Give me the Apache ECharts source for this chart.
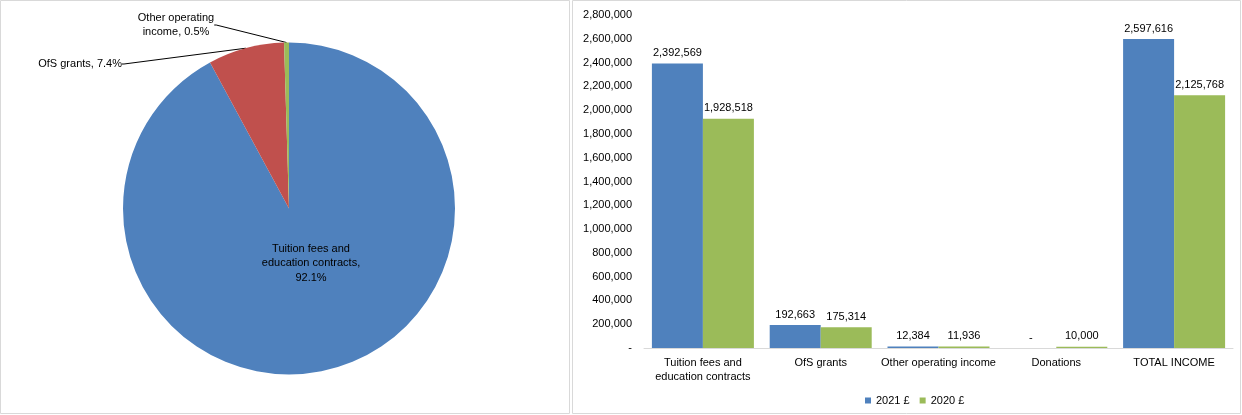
<!DOCTYPE html>
<html><head><meta charset="utf-8">
<script src="https://cdn.jsdelivr.net/npm/echarts@6/dist/echarts.min.js"></script>
<style>html,body{margin:0;padding:0;background:#fff}#c{width:1242px;height:415px}</style>
</head><body><div id="c"></div>
<script>
const categories = ['Tuition fees and\neducation contracts', 'OfS grants', 'Other operating income', 'Donations', 'TOTAL INCOME'];
const values2021 = [2392569, 192663, 12384, 0, 2597616];
const values2020 = [1928518, 175314, 11936, 10000, 2125768];
const seriesNames = ['2021 £', '2020 £'];
const pieNames = ['Tuition fees and education contracts', 'OfS grants', 'Other operating income'];
const pieLabelText = ['Tuition fees and\neducation contracts,', 'OfS grants,', 'Other operating\nincome,'];
const pieValues = [2392569, 192663, 12384];

const FONT = '"Liberation Sans", Arial, sans-serif';
const colors = ['#4F81BD', '#9BBB59'];
const pieColors = ['#4F81BD', '#C0504D', '#9BBB59'];
const fmt = v => v === 0 ? '-' : v.toLocaleString('en-US');

const pieLabelPos = [
  {x: 311, y: 263, align: 'center', verticalAlign: 'middle'},
  {x: 122, y: 64, align: 'right', verticalAlign: 'middle'},
  {x: 176, y: 25, align: 'center', verticalAlign: 'middle'}
];

const chart = echarts.init(document.getElementById('c'), null, {renderer: 'canvas'});
chart.setOption({
  animation: false,
  textStyle: {fontFamily: FONT},
  graphic: [
    {type: 'rect', shape: {x: 0.5, y: 0.5, width: 569, height: 413}, style: {fill: 'none', stroke: '#D9D9D9', lineWidth: 1}, silent: true},
    {type: 'rect', shape: {x: 572.5, y: 0.5, width: 668, height: 413}, style: {fill: 'none', stroke: '#D9D9D9', lineWidth: 1}, silent: true}
  ],
  legend: {
    data: seriesNames,
    left: 860, top: 390,
    icon: 'rect', itemWidth: 6, itemHeight: 6, itemGap: 10,
    textStyle: {fontSize: 11, color: '#000', fontFamily: FONT}
  },
  grid: {left: 644, right: 9, top: 15, bottom: 67, containLabel: false},
  xAxis: {
    type: 'category', data: categories,
    axisLine: {lineStyle: {color: '#D9D9D9', width: 1}},
    axisTick: {show: false},
    axisLabel: {interval: 0, fontSize: 11, color: '#000', margin: 8, lineHeight: 14, fontFamily: FONT}
  },
  yAxis: {
    type: 'value', min: 0, max: 2800000, interval: 200000,
    axisLine: {show: false}, axisTick: {show: false}, splitLine: {show: false},
    axisLabel: {fontSize: 11, color: '#000', margin: 12, formatter: fmt, fontFamily: FONT}
  },
  series: [
    {
      type: 'bar', name: seriesNames[0], data: values2021, barWidth: 51, barGap: '0%',
      itemStyle: {color: colors[0]},
      label: {show: true, position: 'top', distance: 5, fontSize: 11, color: '#000', fontFamily: FONT, formatter: p => fmt(p.value)}
    },
    {
      type: 'bar', name: seriesNames[1], data: values2020, barWidth: 51, barGap: '0%',
      itemStyle: {color: colors[1]},
      label: {show: true, position: 'top', distance: 5, fontSize: 11, color: '#000', fontFamily: FONT, formatter: p => fmt(p.value)}
    },
    {
      type: 'pie', center: [289, 208.5], radius: 166, startAngle: 90, clockwise: true,
      avoidLabelOverlap: false,
      data: pieNames.map((n, i) => ({
        name: n, value: pieValues[i], itemStyle: {color: pieColors[i]},
        labelLine: {show: i !== 0}
      })),
      itemStyle: {borderWidth: 0},
      label: {
        show: true, position: 'outside', fontSize: 11, color: '#000', lineHeight: 14.5, fontFamily: FONT,
        formatter: p => pieLabelText[p.dataIndex] + (p.dataIndex === 0 ? '\n' : ' ') + p.percent.toFixed(1) + '%'
      },
      labelLine: {show: true, length: 0, length2: 2, lineStyle: {color: '#000', width: 1}},
      labelLayout: p => pieLabelPos[p.dataIndex],
      emphasis: {disabled: true}
    }
  ]
});
</script>
</body></html>
